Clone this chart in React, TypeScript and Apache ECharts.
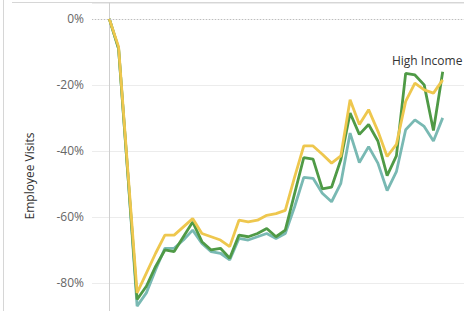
import React, { useEffect, useRef } from "react";
import * as echarts from "echarts";

const periods: number[] = Array.from({ length: 37 }, (_, i) => i);

const highIncome = [
  0, -9, -47, -85, -81, -75, -70, -70.5, -66, -61.5, -67.5, -70, -69.5, -72.5, -65.5, -66,
  -65, -63.5, -66, -64, -53, -42, -42.5, -51.5, -51, -42.7, -28.5, -35, -32, -37, -47.5,
  -41.5, -16.5, -17, -20, -33.8, -16,
];
const yellowGroup = [
  0, -8.5, -46, -83, -77, -71, -65.5, -65.5, -63, -60.5, -65, -66, -67, -69, -61, -61.5,
  -61, -59.5, -59, -58, -48, -38.5, -38.5, -41, -43.7, -41.5, -24.5, -32, -27.5, -34, -41.7,
  -38, -25, -19.5, -21.5, -22.5, -18.5,
];
const tealGroup = [
  0, -9, -47, -87, -83, -76, -69.5, -69.5, -67, -64, -68, -70.5, -71, -73, -66.5, -67, -66,
  -65, -66.5, -65, -57, -48, -48.3, -52.8, -55.4, -49.8, -34.6, -43.5, -38.7, -43.7, -52,
  -46.3, -33.6, -30.6, -32.6, -37, -30,
];
const yTicks = [0, -0.2, -0.4, -0.6, -0.8];
const labelText = "High Income";
const labelIndex = 34;

const FONT = "'Open Sans', 'Noto Sans', sans-serif";

export default function App() {
  const ref = useRef<HTMLDivElement>(null);
  useEffect(() => {
    document.documentElement.style.overflow = "hidden";
    document.body.style.overflow = "hidden";
    if (!ref.current) return;
    const chart = echarts.init(ref.current, undefined, { renderer: "svg" });
    const toPairs = (arr: number[]) => periods.map((p, i) => [p, arr[i] / 100]);
    chart.setOption({
      animation: false,
      grid: { left: 92, top: 3, right: 0, bottom: 0 },
      xAxis: {
        type: "value",
        min: -1.87,
        max: 38.3,
        show: false,
      },
      yAxis: {
        type: "value",
        min: -1.0,
        max: 0.048,
        interval: 0.2,
        name: "Employee Visits",
        nameLocation: "middle",
        nameRotate: 90,
        nameGap: 57,
        nameTextStyle: { color: "#333", fontSize: 12, fontFamily: FONT },
        axisLine: { show: true, lineStyle: { color: "#cfcfcf", width: 1 } },
        axisTick: { show: false },
        axisLabel: {
          color: "#666",
          fontSize: 12,
          fontFamily: FONT,
          margin: 8,
          formatter: (v: number) => {
            const r = Math.round(v * 100);
            return yTicks.some((t) => Math.round(t * 100) === r) ? r + "%" : "";
          },
        },
        splitLine: { show: true, lineStyle: { color: "#ececec", width: 1 } },
      },
      graphic: [
        { type: "line", shape: { x1: 3.5, y1: 0, x2: 3.5, y2: 349 }, style: { stroke: "#d6d6d6", lineWidth: 1 } },
        { type: "line", shape: { x1: 12, y1: 2.5, x2: 464, y2: 2.5 }, style: { stroke: "#d6d6d6", lineWidth: 1 } },
      ],
      series: [
        {
          type: "line",
          data: toPairs(tealGroup),
          showSymbol: false,
          symbol: "none",
          lineStyle: { color: "#79b9b3", width: 2.8 },
          z: 2,
          markLine: {
            silent: true,
            symbol: "none",
            label: { show: false },
            lineStyle: { color: "#bdbdbd", type: [1, 2], width: 1 },
            data: [{ yAxis: 0 }],
          },
        },
        {
          type: "line",
          data: toPairs(highIncome),
          showSymbol: false,
          symbol: "none",
          lineStyle: { color: "#4f9a46", width: 2.8 },
          z: 3,
          markPoint: {
            silent: true,
            symbol: "circle",
            symbolSize: 2,
            itemStyle: { color: "rgba(0,0,0,0)" },
            label: {
              show: true,
              formatter: labelText,
              position: "top",
              offset: [3, -12],
              color: "#333",
              fontSize: 12,
              fontFamily: FONT,
            },
            data: [{ coord: [periods[labelIndex], highIncome[labelIndex] / 100] }],
          },
        },
        {
          type: "line",
          data: toPairs(yellowGroup),
          showSymbol: false,
          symbol: "none",
          lineStyle: { color: "#eec74e", width: 2.8 },
          z: 4,
        },
      ],
    });
    return () => chart.dispose();
  }, []);
  return (
    <div
      ref={ref}
      style={{ position: "fixed", left: 0, top: 0, width: 464, height: 349, background: "#fff" }}
    />
  );
}
